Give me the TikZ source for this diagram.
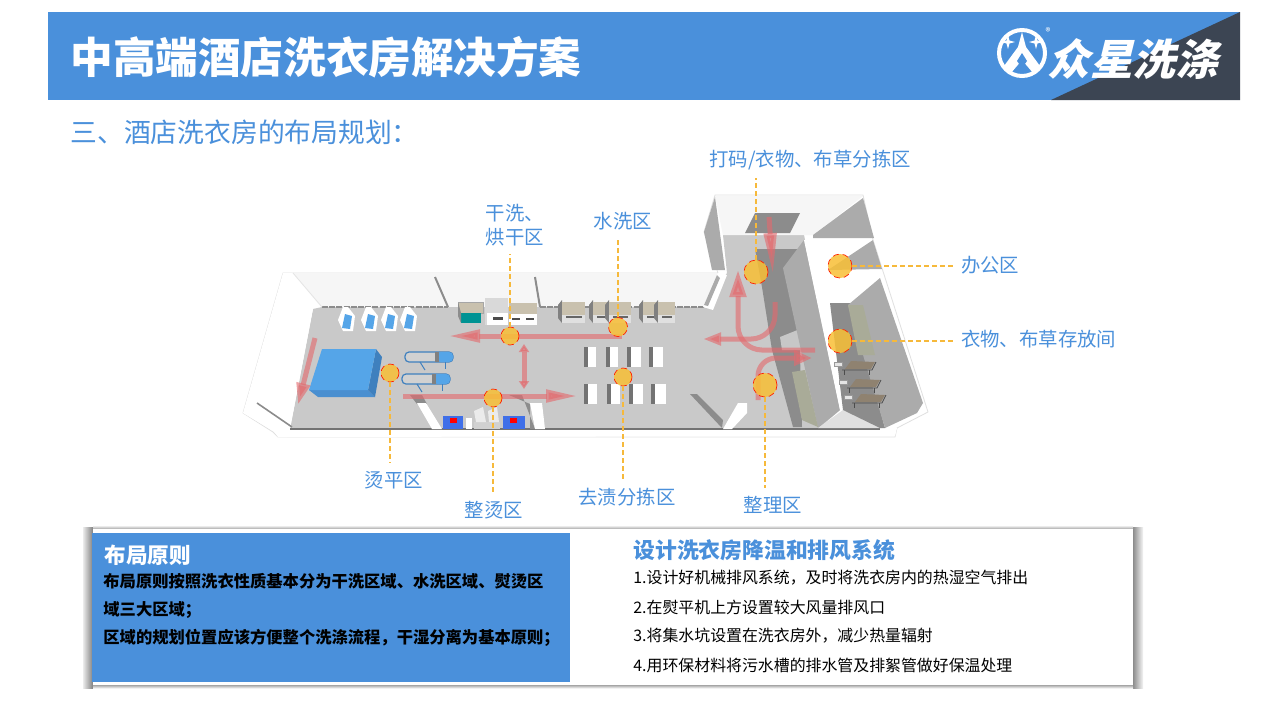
\documentclass[tikz,border=0pt]{standalone}
\usepackage{fontspec}
\setmainfont{Noto Sans CJK SC}
\newfontfamily\logofont[FakeSlant=0.25]{Noto Sans CJK SC}
\usetikzlibrary{arrows.meta,shapes.geometric}
\definecolor{barblue}{HTML}{4A90DB}
\definecolor{barslate}{HTML}{3C4553}
\definecolor{floorgrey}{HTML}{C9C9C9}
\definecolor{wallgrey}{HTML}{ABABAB}
\definecolor{darkgrey}{HTML}{8C8C8C}
\definecolor{roofwhite}{HTML}{F6F6F6}
\definecolor{cabinet}{HTML}{A9AB98}
\definecolor{flowred}{HTML}{E46A6E}
\definecolor{spotfill}{HTML}{F8BF36}
\definecolor{dashgold}{HTML}{F6B93B}
\definecolor{machinetan}{HTML}{C9C1AE}
\definecolor{tabletop}{HTML}{55A5E8}
\definecolor{tableside}{HTML}{3F80BE}
\definecolor{tablefront}{HTML}{4A8FD0}
\definecolor{rackbrown}{HTML}{8F8270}
\definecolor{pressblue}{HTML}{3F6FE8}
\tikzset{
    zonelabel/.style={text=barblue, font=\fontsize{9.7}{12}\selectfont, inner sep=0pt, outer sep=4pt, align=left},
    spot/.style={circle, draw=red!75!orange, densely dashed, line width=0.35pt, fill=spotfill, fill opacity=0.85, inner sep=0pt},
    leader/.style={draw=dashgold, line width=0.7pt, dash pattern=on 2.5pt off 1.5pt},
    flow/.style={draw=flowred, opacity=0.62, line width=2.5pt},
    bodyline/.style={anchor=west, inner sep=0pt, font=\fontsize{7.95}{9}\selectfont, text=black},
    ruleline/.style={anchor=west, inner sep=0pt, font=\fontsize{8.15}{10}\selectfont\bfseries, text=black},
}
\begin{document}
\begin{tikzpicture}[x=0.5pt, y=-0.5pt]
        \useasboundingbox (0,0) rectangle (1280,720);
        \fill[white] (0,0) rectangle (1280,720);

        % Header bar
        \fill[barblue] (48,12) rectangle (1240,100);
        \fill[barslate] (1051,100) -- (1240,12) -- (1240,100) -- cycle;
        \node[anchor=west, inner sep=0pt, text=white, font=\fontsize{21.3}{24}\selectfont\bfseries] (title) at (70,57) {中高端酒店洗衣房解决方案};

        % Logo
        \draw[white, line width=2pt] (1022,53) circle (23);
        \fill[white] (1022,32) -- (1026,47) -- (1040,66) -- (1033,73) -- (1022,60) -- (1011,73) -- (1004,66) -- (1018,47) -- cycle;
        \fill[barblue] (1022,53) -- (1027,61) -- (1022,68) -- (1017,61) -- cycle;
        \foreach \sx/\sy in {1008/42, 1036/42} {
            \fill[white] (\sx,\sy-7) -- (\sx+1.5,\sy-1.5) -- (\sx+7,\sy) -- (\sx+1.5,\sy+1.5) -- (\sx,\sy+7) -- (\sx-1.5,\sy+1.5) -- (\sx-7,\sy) -- (\sx-1.5,\sy-1.5) -- cycle;
        }
        \node[text=white, inner sep=0pt, font=\fontsize{5}{5}\selectfont] (regmark) at (1048,32) {®};
        \node[anchor=west, inner sep=0pt, text=white, font=\logofont\fontsize{21.3}{22}\selectfont\bfseries] (logotext) at (1047,59) {众星洗涤};

        \node[anchor=west, inner sep=0pt, text=barblue, font=\fontsize{13.4}{16}\selectfont] (subtitle) at (70,132) {三、酒店洗衣房的布局规划：};

        % Base slab and long room back wall
        \filldraw[fill=white, draw=black!12, line width=0.4pt] (283,273) -- (243,413) -- (273,432) -- (278,437) -- (895,437) -- (897,428) -- (928,412) -- (873,240) -- (863,195) -- (715,195) -- (704,232) -- (718,273) -- cycle;
        \fill[roofwhite] (293,273) -- (718,273) -- (708,308) -- (322,308) -- cycle;

        % Floor
        \fill[floorgrey] (313,309) -- (322,307) -- (705,307) -- (727,273) -- (723,235) -- (804,235) -- (840,410) -- (818,429) -- (290,429) -- cycle;

        % Back wall strip and partitions
        \draw[darkgrey, line width=1.2pt, dash pattern=on 3pt off 0.6pt] (322,307) -- (448,307);
        \draw[darkgrey, line width=1.2pt, dash pattern=on 3pt off 0.6pt] (540,307) -- (708,307);
        \draw[black!45, line width=1pt] (435,277) -- (448,307);
        \draw[black!45, line width=1pt] (535,277) -- (540,307);
        \fill[white] (703,307) -- (718,273) -- (727,275) -- (713,310) -- cycle;
        \fill[wallgrey] (704,305) -- (717,275) -- (720,278) -- (708,306) -- cycle;

        % Left wall and bottom wall
        \fill[white] (283,273) -- (293,273) -- (313,309) -- (290,429) -- (273,431) -- (243,413) -- cycle;
        \draw[black!10, line width=0.4pt] (293,273) -- (322,307);
        \draw[black!45, line width=0.8pt] (257,403) -- (292,427);
        \fill[white] (273,430) -- (897,428) -- (895,436) -- (278,437) -- cycle;
        \draw[black!55, line width=0.7pt] (290,429) -- (880,429);

        % Upper room
        \fill[roofwhite] (715,196) -- (863,196) -- (813,235) -- (723,235) -- cycle;
        \fill[wallgrey] (715,197) -- (704,232) -- (712,270) -- (725,270) -- cycle;
        \fill[wallgrey] (813,235) -- (863,198) -- (874,238) -- (813,238) -- cycle;
        \fill[darkgrey] (745,233) -- (755,213) -- (800,213) -- (790,233) -- cycle;

        % Dark corridor
        \fill[darkgrey] (755,249) -- (797,249) -- (802,427) -- (793,427) -- (772,350) -- (762,287) -- cycle;
        \fill[black!22] (780,337) -- (810,325) -- (813,350) -- (782,350) -- cycle;

        % Corridor wall and roofs of the right rooms
        \fill[wallgrey] (783,268) -- (804,240) -- (840,410) -- (818,428) -- cycle;
        \fill[white] (804,240) -- (873,240) -- (882,270) -- (880,278) -- (830,303) -- (820,303) -- (843,410) -- (840,410) -- cycle;
        \fill[wallgrey] (828,270) -- (873,240) -- (882,269) -- cycle;

        % Storage room
        \fill[black!12] (843,410) -- (882,428) -- (818,428) -- cycle;
        \fill[darkgrey] (830,303) -- (850,303) -- (885,428) -- (880,428) -- (843,410) -- cycle;
        \fill[wallgrey] (880,278) -- (923,403) -- (917,413) -- (885,428) -- (848,305) -- cycle;
        \fill[cabinet] (848,305) -- (863,305) -- (875,355) -- (858,355) -- cycle;
        \fill[cabinet] (792,372) -- (805,370) -- (818,427) -- (802,420) -- cycle;

        % Racks in the storage room
        \foreach \rx/\ry in {845/361, 850/379, 855/394} {
            \fill[rackbrown] (\rx+6,\ry) -- (\rx+30,\ry+1) -- (\rx+26,\ry+8) -- (\rx,\ry+8) -- cycle;
            \draw[black!70, line width=0.4pt] (\rx-3,\ry+9) -- (\rx+27,\ry+9) -- (\rx+31,\ry+1);
            \draw[black!70, line width=0.4pt] (\rx-1,\ry+9) -- (\rx-1,\ry+14);
            \draw[black!70, line width=0.4pt] (\rx+24,\ry+9) -- (\rx+24,\ry+14);
            \draw[black!40, line width=0.3pt, fill=black!10] (\rx-11,\ry+1) rectangle (\rx-3,\ry+5);
        }

        % Low partitions
        \fill[darkgrey] (690,394) -- (697,394) -- (723,420) -- (722,428) -- cycle;
        \fill[white] (738,403) -- (747,403) -- (747,413) -- (732,429) -- (723,429) -- cycle;
        \fill[darkgrey] (410,395) -- (422,395) -- (427,404) -- (417,404) -- cycle;
        \fill[white] (417,403) -- (426,403) -- (442,429) -- (432,429) -- cycle;
        \fill[darkgrey] (509,395) -- (522,395) -- (535,429) -- (530,429) -- (530,404) -- cycle;
        \fill[white] (530,403) -- (542,403) -- (545,429) -- (535,429) -- cycle;

        % Blue table
        \fill[tablefront] (309,390) -- (368,390) -- (375,397) -- (318,397) -- cycle;
        \fill[tableside] (376,349) -- (382,357) -- (375,397) -- (368,390) -- cycle;
        \fill[tabletop] (309,390) -- (322,349) -- (376,349) -- (368,390) -- cycle;

        % Beds along the back wall
        \foreach \bx in {346,369,389,408} {
            \fill[white] (\bx-8,320) -- (\bx-3,307) -- (\bx+2,307) -- (\bx+9,316) -- (\bx+7,331) -- (\bx-3,331) -- cycle;
            \fill[tabletop] (\bx-1,314) -- (\bx+6,316) -- (\bx+4,329) -- (\bx-4,328) -- cycle;
        }

        % Ironers
        \foreach \ix/\iy in {405/352, 402/374} {
            \filldraw[fill=black!18, draw=tableside, line width=0.6pt, rounded corners=2pt] (\ix,\iy) rectangle (\ix+48,\iy+10);
            \fill[tabletop, rounded corners=2pt] (\ix+32,\iy) rectangle (\ix+48,\iy+10);
            \fill[black!50] (\ix+30,\iy) rectangle (\ix+34,\iy+10);
            \draw[tableside, line width=0.5pt] (\ix+15,\iy+10) -- (\ix+20,\iy+18);
            \draw[tableside, line width=0.5pt] (\ix+40,\iy+10) -- (\ix+40,\iy+17);
        }

        % Dry machines
        \filldraw[fill=machinetan, draw=black!35, line width=0.2pt] (458,302) rectangle (483,313);
        \fill[teal!85!cyan] (461,313) rectangle (481,323);
        \fill[black!45] (458,302) -- (461,313) -- (461,323) -- (458,316) -- cycle;
        \fill[black!15] (485,298) rectangle (508,325);
        \fill[white] (487,313) rectangle (508,325);
        \fill[black!70] (493,317) rectangle (503,320);
        \foreach \mx/\mw in {509/14, 523/14} {
            \fill[machinetan] (\mx,303) rectangle (\mx+\mw,314);
            \fill[white] (\mx,314) rectangle (\mx+\mw,325);
            \fill[black!70] (\mx+3,318) rectangle (\mx+\mw-3,320);
        }

        % Washers
        \foreach \wx/\ww in {562/23, 593/16, 609/22, 643/15, 658/17} {
            \fill[black!50] (\wx-4,305) -- (\wx,300) -- (\wx,323) -- (\wx-4,318) -- cycle;
            \fill[machinetan] (\wx,302) rectangle (\wx+\ww,323);
            \fill[black!12] (\wx,315) rectangle (\wx+\ww,323);
            \fill[black!60] (\wx+4,316) rectangle (\wx+\ww-3,317.5);
        }

        % Sorting tables
        \foreach \tx/\ty/\tw in {584/347/12, 606/347/12, 627/347/14, 649/347/14, 584/384/13, 607/384/13, 629/384/14, 651/384/15} {
            \fill[white] (\tx,\ty) rectangle (\tx+\tw,\ty+20);
            \fill[black!55] (\tx,\ty) rectangle (\tx+4,\ty+20);
        }

        % Finishing station
        \fill[pressblue] (443,416) rectangle (463,429);
        \fill[red] (450,418) rectangle (457,423);
        \fill[white] (466,418) rectangle (472,429);
        \fill[pressblue] (503,416) rectangle (525,429);
        \fill[red] (510,418) rectangle (517,423);
        \fill[black!18] (474,422) rectangle (500,429);
        \fill[black!8] (474,411) -- (483,407) -- (486,422) -- (476,422) -- cycle;
        \fill[black!8] (488,411) -- (497,407) -- (499,422) -- (489,422) -- cycle;

        % Flow arrows
        \draw[flow, -{Triangle[length=16pt, width=6pt]}] (622,336) -- (448,336);
        \draw[flow, -{Triangle[length=11pt, width=6.5pt]}] (315,338) -- (298,405);
        \draw[flow, {Triangle[length=4pt, width=5pt]}-{Triangle[length=4pt, width=5pt]}] (524,344) -- (524,389);
        \draw[flow, -{Triangle[length=16pt, width=6pt]}] (403,396) -- (578,396);
        \draw[flow, rounded corners=12pt, -{Triangle[length=13.5pt, width=8pt]}] (815,350) -- (738,350) -- (738,270);
        \draw[flow, rounded corners=12pt, -{Triangle[length=9pt, width=6pt]}] (775,302) -- (775,339) -- (703,339);
        \draw[flow, rounded corners=9pt, -{Triangle[length=9pt, width=7.5pt]}] (758,400) -- (758,358) -- (812,358);
        \draw[flow, -{Triangle[length=21pt, width=6pt]}] (769,217) -- (773,275);

        % Zone spots
        \node[spot, minimum size=9pt] (spotDry) at (510,336) {};
        \node[spot, minimum size=9.5pt] (spotWash) at (618,327) {};
        \node[spot, minimum size=9pt] (spotFlat) at (390,373) {};
        \node[spot, minimum size=9pt] (spotPress) at (493,398) {};
        \node[spot, minimum size=9pt] (spotStain) at (623,377) {};
        \node[spot, minimum size=12pt] (spotCode) at (756,272) {};
        \node[spot, minimum size=12pt] (spotOffice) at (840,266) {};
        \node[spot, minimum size=12pt] (spotStore) at (840,341) {};
        \node[spot, minimum size=12pt] (spotTidy) at (765,385) {};

        % Zone labels
        \node[zonelabel] (labCode) at (810,160) {打码/衣物、布草分拣区};
        \node[zonelabel] (labDry) at (515,225) {干洗、\\烘干区};
        \node[zonelabel] (labWash) at (623,221) {水洗区};
        \node[zonelabel, anchor=west] (labOffice) at (953,265) {办公区};
        \node[zonelabel, anchor=west] (labStore) at (953,339) {衣物、布草存放间};
        \node[zonelabel] (labFlat) at (394,480) {烫平区};
        \node[zonelabel] (labPress) at (494,510) {整烫区};
        \node[zonelabel] (labStain) at (627,497) {去渍分拣区};
        \node[zonelabel] (labTidy) at (773,505) {整理区};

        % Leaders
        \draw[leader] (spotCode.north) -- (spotCode.north |- labCode.south);
        \draw[leader] (spotDry.north) -- (spotDry.north |- labDry.south);
        \draw[leader] (spotWash.north) -- (spotWash.north |- labWash.south);
        \draw[leader] (spotOffice.east) -- (spotOffice.east -| labOffice.west);
        \draw[leader] (spotStore.east) -- (spotStore.east -| labStore.west);
        \draw[leader] (spotFlat.south) -- (spotFlat.south |- labFlat.north);
        \draw[leader] (spotPress.south) -- (spotPress.south |- labPress.north);
        \draw[leader] (spotStain.south) -- (spotStain.south |- labStain.north);
        \draw[leader] (spotTidy.south) -- (spotTidy.south |- labTidy.north);

        % Bottom panel with shadow
        \shade[left color=black!8, right color=black!50] (83,527) rectangle (93,688);
        \shade[left color=black!45, right color=black!4] (1133,527) rectangle (1143,688);
        \shade[top color=black!8, bottom color=black!35] (93,526) rectangle (1133,529);
        \shade[top color=black!35, bottom color=black!5] (93,685) rectangle (1133,688);
        \fill[white] (93,529) rectangle (1133,685);
        \fill[barblue] (92,533) rectangle (570,682);

        \node[anchor=west, inner sep=0pt, text=white, font=\fontsize{10.8}{13}\selectfont\bfseries] (ruleHead) at (104,555) {布局原则};
        \node[ruleline] (ruleA) at (103,581) {布局原则按照洗衣性质基本分为干洗区域、水洗区域、熨烫区};
        \node[ruleline] (ruleB) at (103,610) {域三大区域；};
        \node[ruleline] (ruleC) at (103,638) {区域的规划位置应该方便整个洗涤流程，干湿分离为基本原则；};

        \node[anchor=west, inner sep=0pt, text=barblue, font=\fontsize{10.9}{13}\selectfont\bfseries] (ventHead) at (633,550) {设计洗衣房降温和排风系统};
        \node[bodyline] (ventA) at (633,578) {1.设计好机械排风系统，及时将洗衣房内的热湿空气排出};
        \node[bodyline] (ventB) at (633,607) {2.在熨平机上方设置较大风量排风口};
        \node[bodyline] (ventC) at (633,636) {3.将集水坑设置在洗衣房外，减少热量辐射};
        \node[bodyline] (ventD) at (633,665) {4.用环保材料将污水槽的排水管及排絮管做好保温处理};
    \end{tikzpicture}
\end{document}
